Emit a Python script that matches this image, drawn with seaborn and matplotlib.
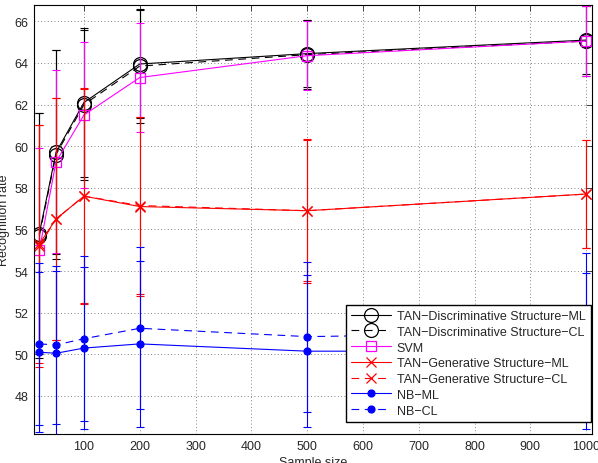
import matplotlib
matplotlib.use("Agg")
import matplotlib.pyplot as plt
import seaborn as sns

# sample sizes
x = [20, 50, 100, 200, 500, 1000]

# recognition rates (mean) and error bars
tan_disc_ml = [55.8, 59.7, 62.1, 63.95, 64.45, 65.1]
tan_disc_ml_err = [5.8, 4.9, 3.6, 2.6, 1.6, 1.65]
tan_disc_cl = [55.7, 59.6, 62.0, 63.85, 64.4, 65.05]
tan_disc_cl_err = [5.9, 5.0, 3.6, 2.75, 1.65, 1.7]
svm = [55.0, 59.25, 61.5, 63.3, 64.35, 65.05]
svm_err = [4.9, 4.4, 3.5, 2.6, 1.65, 1.7]
tan_gen_ml = [55.3, 56.5, 57.6, 57.1, 56.9, 57.7]
tan_gen_ml_err = [5.7, 5.8, 5.15, 4.3, 3.45, 2.6]
tan_gen_cl = [55.2, 56.5, 57.6, 57.15, 56.9, 57.7]
tan_gen_cl_err = [5.8, 5.8, 5.2, 4.25, 3.4, 2.6]
nb_ml = [50.1, 50.05, 50.3, 50.5, 50.15, 50.15]
nb_ml_err = [3.85, 3.95, 3.9, 4.0, 3.65, 3.75]
nb_cl = [50.5, 50.45, 50.75, 51.25, 50.85, 51.05]
nb_cl_err = [3.9, 3.8, 3.95, 3.9, 3.6, 3.8]

labels = ["TAN\u2212Discriminative Structure\u2212ML",
          "TAN\u2212Discriminative Structure\u2212CL",
          "SVM",
          "TAN\u2212Generative Structure\u2212ML",
          "TAN\u2212Generative Structure\u2212CL",
          "NB\u2212ML",
          "NB\u2212CL"]

dashed = (0, (7, 5))
series = [
    (tan_disc_ml, tan_disc_ml_err, "black", "-", "o", 10, "none"),
    (tan_disc_cl, tan_disc_cl_err, "black", dashed, "o", 10, "none"),
    (svm, svm_err, "#ff00ff", "-", "s", 7, "none"),
    (tan_gen_ml, tan_gen_ml_err, "red", "-", "x", 7, None),
    (tan_gen_cl, tan_gen_cl_err, "red", dashed, "x", 7, None),
    (nb_ml, nb_ml_err, "blue", "-", "o", 5, "blue"),
    (nb_cl, nb_cl_err, "blue", dashed, "o", 5, "blue"),
]

sns.set_style("white")
plt.rcParams["font.family"] = ["Liberation Sans", "DejaVu Sans"]

fig = plt.figure(figsize=(5.98, 4.64), dpi=100)
ax = fig.add_axes([0.0564, 0.0625, 0.9331, 0.9252])

for (y, err, c, ls, m, ms, mfc), lab in zip(series, labels):
    ax.errorbar(x, y, yerr=err, fmt="none", ecolor=c, elinewidth=0.8,
                capsize=3, capthick=0.8)
    kw = dict(mec=c, mew=0.9, markersize=ms)
    if mfc is not None:
        kw["mfc"] = mfc
    sns.lineplot(x=x, y=y, ax=ax, color=c, linestyle=ls, marker=m,
                 linewidth=0.8, label=lab, **kw)

ax.set_xlim(10, 1010)
ax.set_ylim(46.17, 66.8)
ax.set_xticks(range(100, 1001, 100))
ax.set_yticks(range(48, 67, 2))
ax.grid(True, color="0.35", linestyle=(0, (1, 3)), linewidth=0.6)
ax.tick_params(direction="in", top=True, right=True, labelsize=9,
               length=4, width=0.6, pad=4)
for s in ax.spines.values():
    s.set_color("black")
    s.set_linewidth(0.8)

ax.set_xlabel("Sample size", fontsize=9, labelpad=3)
ax.set_ylabel("Recognition rate", fontsize=9, labelpad=3)

leg = ax.legend(loc="lower right", bbox_to_anchor=(0.998, 0.029),
                borderaxespad=0, fontsize=9, frameon=True, fancybox=False,
                framealpha=1, edgecolor="black", handlelength=3.2,
                labelspacing=0.3, borderpad=0.4, handletextpad=0.5)
leg.get_frame().set_linewidth(1.0)

fig.savefig("out.png", dpi=100)
